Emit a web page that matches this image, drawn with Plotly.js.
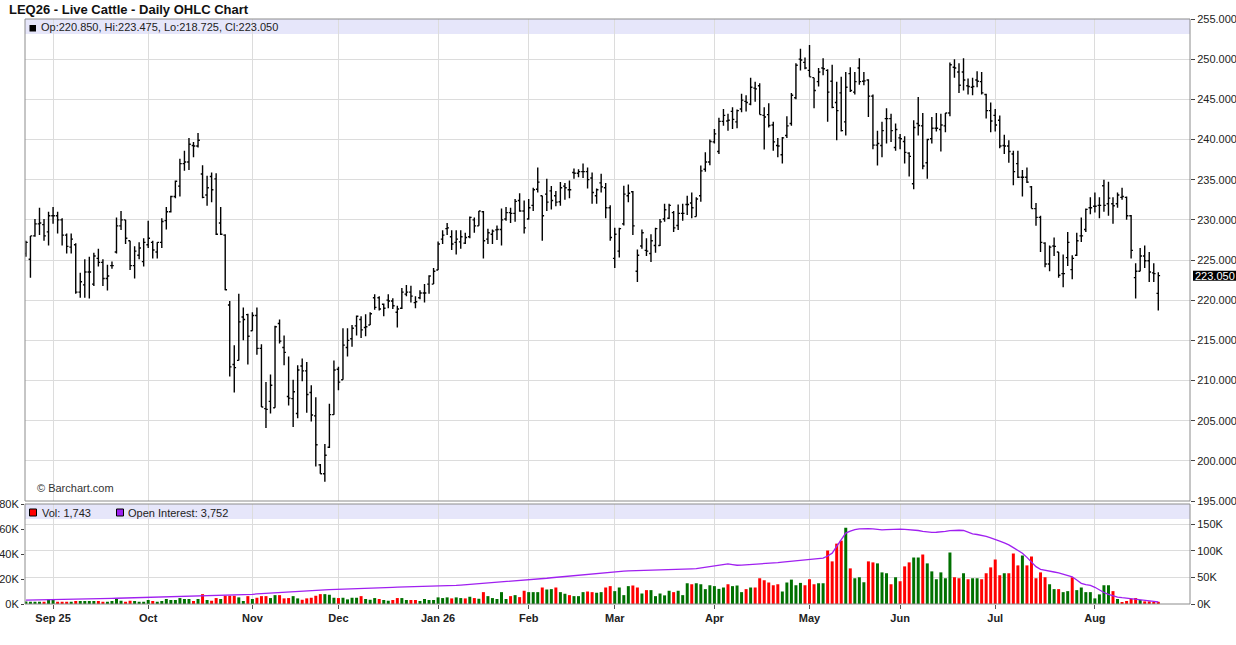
<!DOCTYPE html>
<html><head><meta charset="utf-8">
<script src="https://cdn.plot.ly/plotly-3.0.1.min.js"></script>
<style>html,body{margin:0;padding:0;background:#fff}#chart{width:1236px;height:645px}</style>
</head><body><div id="chart"></div>
<script>
// ---- data (bar index = trading day from Aug 22 2025 to Aug 21 2026) ----
const monthStartIndex = [6,27,50,69,91,111,130,152,173,193,214,236];
const monthLabels = ['Sep 25','Oct','Nov','Dec','Jan 26','Feb','Mar','Apr','May','Jun','Jul','Aug'];
const priceTicks = [195,200,205,210,215,220,225,230,235,240,245,250,255];
const volumeTicksK = [0,20,40,60,80];
const oiTicksK = [0,50,100,150];

const openPrice = [
225.8,225.1,228.0,229.5,229.4,228.5,230.5,230.5,230.0,228.1,
226.6,226.9,221.0,221.9,223.5,222.0,225.2,224.7,222.7,224.3,
226.0,229.25,230.0,227.4,224.3,225.6,224.8,226.9,227.2,226.0,
227.2,229.9,231.0,232.9,234.2,237.0,237.2,239.25,239.2,235.7,
233.1,235.4,235.1,229.6,228.1,219.4,212.0,212.5,217.9,218.2,
216.2,218.1,214.0,206.5,207.4,206.6,217.1,214.1,208.0,207.75,
205.9,211.8,211.2,208.5,205.6,199.5,198.4,201.7,205.75,211.4,
210.1,214.1,215.2,216.8,217.6,216.6,216.9,220.3,220.3,219.5,
220.0,219.9,218.5,219.0,220.75,221.0,219.7,220.3,220.9,222.0,
222.0,223.75,227.6,228.9,227.9,227.2,227.25,227.1,227.9,230.0,
229.25,231.0,227.6,228.2,228.75,228.8,230.1,230.9,230.8,232.4,
231.1,230.1,231.8,233.8,233.0,233.2,233.6,233.0,232.25,234.2,
233.75,235.9,235.8,236.0,236.0,235.2,233.0,234.6,234.0,231.5,
225.2,226.1,229.5,233.0,233.5,223.6,226.75,226.2,225.8,226.8,
226.8,230.1,230.2,230.9,229.3,230.8,231.9,232.1,230.4,233.0,
236.3,237.2,239.7,238.5,242.25,242.3,243.5,242.2,243.8,244.75,
244.4,246.4,246.7,243.0,243.1,241.8,239.25,238.1,240.5,242.0,
245.2,250.0,249.6,248.6,247.7,247.2,248.9,248.6,247.25,244.6,
245.8,242.2,248.2,245.9,248.9,247.25,247.4,245.4,239.3,239.25,
242.6,242.6,239.0,240.2,239.75,238.3,234.5,242.0,241.7,237.1,
240.1,241.4,241.25,241.7,243.3,249.0,248.4,248.4,246.7,246.5,
247.4,247.2,245.6,243.6,243.0,242.4,239.25,239.2,238.2,237.0,
235.3,235.3,234.1,231.4,230.3,227.1,224.5,226.75,226.0,223.3,
225.3,223.8,225.6,228.0,228.8,231.5,231.7,231.8,234.25,232.0,
232.0,232.0,232.8,232.8,230.5,222.8,223.6,225.5,224.9,223.4,220.85];

const highPrice = [
227.4,228.0,230.1,231.5,230.1,231.0,231.6,231.0,230.2,228.3,
228.3,227.1,223.4,225.1,225.4,225.9,226.4,225.1,224.4,224.8,
230.3,231.1,230.0,227.4,226.7,227.2,227.7,229.9,227.4,227.2,
230.2,231.6,233.0,234.9,237.6,238.6,240.2,239.7,240.8,236.8,
235.5,235.9,235.8,231.6,228.2,219.9,214.4,220.8,219.1,218.3,
218.5,219.1,214.5,209.8,210.75,216.8,217.6,215.6,213.0,210.1,
211.9,212.75,212.3,209.4,207.9,199.6,202.1,207.1,212.5,211.7,
216.5,216.5,216.9,218.1,218.0,218.25,218.5,220.75,220.5,219.6,
220.75,220.25,219.3,221.5,221.9,221.8,220.5,221.25,222.0,223.1,
224.0,227.3,228.7,229.6,228.7,228.7,228.7,228.4,230.4,230.3,
231.1,231.1,228.9,228.8,229.3,231.4,231.6,231.5,232.6,233.3,
232.4,232.6,234.0,236.5,233.0,235.1,234.2,233.6,234.7,234.6,
234.9,236.4,236.3,237.0,236.5,235.9,233.9,235.75,234.6,231.8,
229.0,229.0,234.25,234.4,233.6,226.3,228.8,227.7,228.2,229.0,
230.1,232.0,232.0,231.1,231.9,232.0,233.0,233.4,232.8,236.75,
238.4,240.0,241.3,242.7,243.8,243.2,244.0,243.75,245.7,245.5,
247.7,247.2,247.0,244.0,244.5,242.2,240.2,240.3,242.9,245.8,
249.5,251.3,250.2,251.75,247.7,248.9,250.1,248.75,249.3,247.2,
247.8,248.4,249.0,248.4,250.1,248.4,247.5,245.6,241.1,242.2,
243.9,243.2,242.0,240.7,240.4,238.4,242.4,245.3,243.3,240.1,
242.8,243.3,243.2,243.3,249.6,250.0,249.5,250.1,247.6,247.7,
248.5,248.4,245.7,244.6,243.8,243.0,240.6,239.9,238.6,238.6,
236.2,236.5,234.2,232.1,230.5,227.2,226.8,227.8,226.0,225.7,
228.5,225.6,228.4,230.3,231.4,232.8,233.4,232.8,235.0,234.75,
232.8,233.4,234.0,232.9,230.6,224.6,226.5,226.8,226.0,224.6,223.475];

const lowPrice = [
225.4,222.8,227.9,228.1,227.4,226.8,229.5,228.3,226.8,225.8,
225.8,220.8,220.3,220.3,220.2,221.75,224.2,221.75,221.2,223.9,
225.8,228.75,227.0,223.75,222.7,225.1,224.2,226.5,225.2,225.2,
226.5,228.8,230.9,232.7,232.9,236.1,236.2,237.8,239.0,232.7,
231.75,232.2,228.1,228.1,221.25,210.5,208.5,212.5,215.0,212.0,
216.2,213.2,206.7,204.1,205.9,206.6,214.6,211.9,206.9,204.2,
205.3,209.9,206.0,204.9,199.3,198.4,197.4,201.6,205.75,208.8,
210.1,213.0,214.2,215.6,215.3,215.5,216.9,218.8,218.7,218.0,
219.0,218.9,216.6,218.9,220.5,219.7,219.0,220.1,219.7,220.8,
222.0,223.75,227.0,228.1,226.25,225.7,226.4,227.0,227.7,228.4,
229.25,225.2,227.0,227.0,227.5,226.8,229.9,229.6,229.75,231.0,
228.3,230.0,231.1,233.4,227.4,231.1,231.3,231.7,231.75,232.5,
232.7,235.1,235.3,235.2,233.9,232.0,232.0,233.4,230.2,227.4,
224.0,225.3,229.3,232.2,228.1,222.25,226.4,225.5,224.75,225.9,
226.75,229.75,230.1,228.5,228.75,229.9,230.6,230.2,230.4,232.25,
236.0,236.8,239.5,238.2,241.7,241.1,241.3,241.4,243.4,243.5,
244.25,244.7,243.1,238.75,241.5,238.6,237.8,237.0,240.2,241.7,
245.0,248.6,248.75,247.8,243.9,246.6,248.0,242.2,243.9,239.9,
241.0,240.5,245.9,245.6,246.8,246.75,242.8,238.8,236.75,237.8,
239.5,239.7,238.6,238.8,237.0,235.4,233.8,240.5,236.3,235.1,
239.5,241.0,238.5,240.9,242.9,247.7,245.8,246.1,245.6,245.5,
246.5,245.6,242.6,240.9,241.0,238.9,238.2,237.1,234.3,235.2,
232.9,234.6,231.4,229.25,226.0,224.1,223.6,225.5,222.8,221.6,
224.25,222.6,225.5,227.25,228.5,230.7,230.9,230.2,231.0,230.5,
229.5,231.5,232.5,230.0,225.2,220.2,223.6,224.0,222.25,222.25,218.725];

const closePrice = [
227.2,228.0,229.5,229.6,228.0,230.5,230.5,230.0,228.1,226.7,
227.6,221.0,222.3,223.5,223.5,225.5,224.7,222.7,223.0,224.3,
229.25,230.0,227.7,224.3,226.1,226.5,227.2,227.7,226.25,227.2,
229.8,231.0,232.9,234.8,237.0,237.2,239.4,239.2,239.9,232.8,
234.0,233.75,228.2,228.2,221.3,211.7,211.6,217.3,217.6,215.5,
218.1,214.0,206.7,206.4,209.4,216.7,214.9,213.5,207.8,208.6,
211.3,211.2,208.25,205.7,202.0,198.4,200.7,205.75,211.3,209.8,
214.4,215.0,216.5,218.0,216.3,216.7,218.3,219.1,218.9,219.0,
219.9,219.3,218.9,221.0,221.0,220.5,219.8,220.9,220.9,223.0,
223.6,227.0,228.1,229.0,227.0,227.6,227.9,227.8,230.3,229.25,
231.1,227.4,228.4,228.6,228.8,230.0,230.9,230.8,232.3,231.1,
229.0,231.5,233.75,234.7,230.5,232.2,232.4,232.2,234.0,234.0,
233.75,235.8,236.0,236.0,235.0,233.4,233.75,234.1,231.5,227.8,
228.2,228.9,233.2,233.3,229.25,225.6,228.4,226.1,227.4,228.9,
229.75,231.25,231.8,229.0,230.8,230.8,231.9,231.5,232.6,236.1,
237.2,239.75,240.7,242.25,243.0,242.4,242.5,243.6,244.9,244.6,
246.5,246.3,243.1,242.8,241.75,239.7,239.2,240.2,241.7,245.5,
249.25,249.9,248.9,247.8,246.1,248.4,248.8,245.9,244.0,243.6,
241.1,246.5,246.1,247.2,247.2,247.3,245.4,239.3,239.5,241.1,
242.6,241.1,241.25,240.1,238.4,237.9,241.5,241.75,236.7,240.0,
241.4,241.4,241.8,243.3,249.3,248.9,246.75,247.4,246.6,246.6,
247.25,245.8,243.6,242.3,241.8,239.2,239.2,238.5,236.0,235.3,
235.3,234.7,231.4,230.3,227.2,224.5,226.6,226.7,223.1,223.3,
227.2,225.2,227.4,228.0,231.3,231.5,231.7,231.8,231.8,232.7,
231.75,233.1,232.9,230.5,226.2,223.6,225.5,224.9,223.5,223.3,223.05];

const volumeK = [
2.0,1.8,1.8,1.8,1.8,3.7,3.7,1.8,1.8,1.8,
1.8,2.4,2.4,2.4,2.4,2.4,2.4,1.8,1.8,2.4,
4.0,2.6,1.8,2.6,2.4,1.8,1.8,3.2,2.4,1.8,
2.4,4.0,3.2,3.2,4.75,4.0,4.0,2.4,4.0,7.9,
3.2,2.6,4.75,4.0,6.6,6.6,6.6,5.3,2.4,6.3,
4.0,5.0,6.3,6.3,4.75,7.1,7.1,4.5,4.75,6.3,
4.5,3.4,4.5,5.0,6.6,7.9,7.9,7.4,5.0,4.75,
5.0,3.7,5.0,5.0,6.3,4.0,3.4,4.75,4.0,3.2,
2.6,3.2,4.75,4.75,3.2,3.2,3.2,2.4,4.0,3.2,
3.2,5.3,4.75,5.3,4.5,5.3,4.75,4.5,5.8,4.75,
4.2,9.5,6.3,4.75,4.0,9.5,4.0,6.3,7.1,5.5,
10.6,9.5,9.5,9.5,13.2,11.6,11.9,13.2,9.5,8.2,
7.1,6.3,6.3,9.5,10.0,9.5,9.0,9.5,13.2,14.3,
10.3,13.2,7.1,14.3,14.8,13.2,8.4,11.1,11.1,6.3,
8.4,6.9,10.6,9.5,10.6,7.1,16.6,15.8,16.6,15.8,
11.9,15.0,14.3,12.1,13.2,15.8,14.3,14.8,9.5,11.9,
13.2,13.2,20.6,19.0,17.2,15.0,15.8,10.0,17.2,19.5,
15.0,16.9,15.0,19.8,15.8,16.6,16.6,42.8,34.1,48.3,
50.7,61.0,28.5,20.6,21.4,17.4,34.1,33.3,32.5,25.3,
24.6,15.8,21.4,18.2,30.1,33.3,37.2,37.2,39.6,32.5,
26.1,19.8,25.3,20.6,41.2,21.4,20.6,24.6,19.8,20.6,
20.6,19.8,24.6,29.3,35.6,23.0,24.6,24.6,40.4,30.9,
38.8,30.9,38.0,20.6,25.3,21.4,15.8,11.9,11.9,9.5,
10.3,21.4,11.1,13.2,9.5,9.5,4.5,7.7,15.0,15.0,
10.3,4.0,1.6,2.4,4.0,4.75,3.2,2.1,2.1,1.6,1.743];

const openInterestK = [
7.4,7.5,7.6,7.7,7.8,8.0,8.1,8.2,8.4,8.5,
8.7,8.9,9.1,9.3,9.5,9.7,9.9,10.1,10.3,10.5,
10.8,11.0,11.2,11.4,11.6,11.8,12.1,12.4,12.6,12.8,
13.0,13.2,13.4,13.6,13.8,14.0,14.2,14.4,14.6,14.9,
15.2,15.5,15.8,16.1,16.4,16.7,17.0,17.3,17.6,17.9,
18.2,18.8,19.4,19.9,20.4,20.9,21.4,21.9,22.4,22.9,
23.4,23.9,24.4,24.9,25.4,25.9,26.4,26.8,27.2,27.6,
27.9,28.2,28.5,28.8,29.1,29.4,29.7,30.0,30.3,30.6,
30.9,31.2,31.5,31.7,31.9,32.1,32.3,32.4,32.5,32.6,
32.6,32.7,33.2,33.7,34.3,34.9,35.5,36.1,36.7,37.3,
38.0,38.7,39.3,39.9,40.5,41.0,41.6,42.2,42.8,43.4,
44.1,44.8,45.6,46.5,47.4,48.3,49.2,50.0,50.8,51.7,
52.6,53.5,54.5,55.4,56.3,57.2,58.1,59.0,59.8,60.6,
61.4,61.6,61.8,62.0,62.2,62.4,62.6,62.8,63.1,63.4,
63.6,63.9,64.3,64.6,65.0,65.3,65.7,66.0,66.4,67.6,
68.9,70.1,71.4,72.7,74.0,75.2,74.0,72.7,73.0,73.4,
73.8,74.2,74.7,75.2,76.0,76.8,77.6,78.4,79.2,80.0,
80.8,81.6,82.4,83.2,84.1,85.0,85.9,90.0,95.3,108.0,
121.0,132.9,136.5,139.5,141.0,141.5,141.3,141.0,140.0,139.0,
139.6,140.2,140.4,140.4,140.0,139.4,138.6,137.8,136.0,134.5,
134.3,134.5,134.7,136.0,137.5,138.5,138.3,137.8,134.5,131.6,
130.3,129.1,126.6,124.1,121.6,118.0,114.5,110.9,105.7,100.4,
95.2,87.4,79.6,70.0,65.0,63.0,61.4,60.0,58.5,56.4,
54.3,51.0,45.0,38.8,36.5,35.0,31.3,26.0,21.5,18.2,
15.0,13.0,11.8,10.6,9.4,8.4,7.4,6.3,5.6,4.8,3.752];

// ---- derived ----
const n = closePrice.length;
const barIndex = closePrice.map((_, i) => i);
const UP = '#007000', DOWN = '#ff0000';
const volColors = closePrice.map((c, i) => (i === 0 || c >= closePrice[i - 1]) ? UP : DOWN);
const last = n - 1;
const fmtInt = v => Math.round(v * 1000).toLocaleString('en-US');

// pixel helpers for paper-anchored decorations
const L = 25, R = 1190, TOP = 19, BOT = 604;
const px = x => (x - L) / (R - L);
const py = y => (BOT - y) / (BOT - TOP);

const FONT = 'Liberation Sans, Arial, Helvetica, sans-serif';
const GRID = '#dcdcdc';

const data = [
  {
    type: 'ohlc', x: barIndex, open: openPrice, high: highPrice, low: lowPrice, close: closePrice,
    xaxis: 'x', yaxis: 'y', tickwidth: 0.4,
    increasing: {line: {color: '#000', width: 1.4}},
    decreasing: {line: {color: '#000', width: 1.4}},
    hoverinfo: 'none'
  },
  {
    type: 'bar', x: barIndex, y: volumeK, xaxis: 'x', yaxis: 'y2',
    width: 0.66, marker: {color: volColors, line: {width: 0}}, hoverinfo: 'none'
  },
  {
    type: 'scatter', mode: 'lines', x: barIndex, y: openInterestK, xaxis: 'x', yaxis: 'y3',
    line: {color: '#a020f0', width: 1.3}, hoverinfo: 'none'
  }
];

const layout = {
  width: 1236, height: 645,
  margin: {l: L, r: 1236 - R, t: TOP, b: 645 - BOT, pad: 0},
  paper_bgcolor: '#fff', plot_bgcolor: '#fff',
  showlegend: false, hovermode: false,
  font: {family: FONT, size: 11, color: '#222'},
  title: {
    text: 'LEQ26 - Live Cattle - Daily OHLC Chart',
    font: {family: FONT, size: 13, weight: 'bold', color: '#111'},
    xref: 'container', yref: 'container', x: 9 / 1236, xanchor: 'left',
    y: 1 - 9 / 645, yanchor: 'middle'
  },
  xaxis: {
    range: [-0.2, 257], anchor: 'y2',
    tickmode: 'array', tickvals: monthStartIndex, ticktext: monthLabels,
    tickfont: {family: FONT, size: 11, weight: 'bold', color: '#222'},
    ticks: 'outside', ticklen: 4, tickcolor: '#555',
    showgrid: true, gridcolor: GRID, gridwidth: 1,
    zeroline: false, showline: false,
    rangeslider: {visible: false}, fixedrange: true
  },
  yaxis: {
    domain: [(BOT - 501) / (BOT - TOP), 1], range: [195, 255], side: 'right', anchor: 'x',
    tickmode: 'array', tickvals: priceTicks, ticktext: priceTicks.map(v => v.toFixed(3)),
    ticks: 'outside', ticklen: 4, tickcolor: '#444',
    tickfont: {family: FONT, size: 11, color: '#222'},
    showgrid: true, gridcolor: GRID, zeroline: false, showline: false, fixedrange: true
  },
  yaxis2: {
    domain: [0, (BOT - 504) / (BOT - TOP)], range: [0, 80], side: 'left', anchor: 'x',
    tickmode: 'array', tickvals: volumeTicksK, ticktext: volumeTicksK.map(v => v + 'K'),
    ticks: 'outside', ticklen: 3, tickcolor: '#444',
    tickfont: {family: FONT, size: 11, color: '#222'},
    showgrid: false, zeroline: false, showline: false, fixedrange: true
  },
  yaxis3: {
    overlaying: 'y2', range: [0, 187.5], side: 'right', anchor: 'x',
    tickmode: 'array', tickvals: oiTicksK, ticktext: oiTicksK.map(v => v + 'K'),
    ticks: 'outside', ticklen: 4, tickcolor: '#444',
    tickfont: {family: FONT, size: 11, color: '#222'},
    showgrid: true, gridcolor: GRID, zeroline: false, showline: false, fixedrange: true
  },
  shapes: [
    // legend bands
    {type: 'rect', xref: 'x domain', yref: 'y domain', x0: 0, x1: 1, y0: 1 - 15 / 482, y1: 1,
     fillcolor: '#e6e6fa', line: {width: 0}, layer: 'below'},
    {type: 'rect', xref: 'x domain', yref: 'y2 domain', x0: 0, x1: 1, y0: 1 - 15 / 100, y1: 1,
     fillcolor: '#e6e6fa', line: {width: 0}, layer: 'below'},
    // panel frames
    {type: 'rect', xref: 'x domain', yref: 'y domain', x0: 0, x1: 1, y0: 0, y1: 1,
     line: {color: '#8c8c8c', width: 1}, fillcolor: 'rgba(0,0,0,0)', layer: 'above'},
    {type: 'rect', xref: 'x domain', yref: 'y2 domain', x0: 0, x1: 1, y0: 0, y1: 1,
     line: {color: '#8c8c8c', width: 1}, fillcolor: 'rgba(0,0,0,0)', layer: 'above'},
    // legend swatches
    {type: 'rect', xref: 'paper', yref: 'paper', x0: px(29.5), x1: px(36), y0: py(31.5), y1: py(25),
     fillcolor: '#000', line: {width: 0}},
    {type: 'rect', xref: 'paper', yref: 'paper', x0: px(29.5), x1: px(36.5), y0: py(516), y1: py(509),
     fillcolor: '#ff0000', line: {color: '#000', width: 1}},
    {type: 'rect', xref: 'paper', yref: 'paper', x0: px(116.5), x1: px(123.5), y0: py(516), y1: py(509),
     fillcolor: '#9b1ff0', line: {color: '#000', width: 1}},
    // last price box
    {type: 'rect', xref: 'paper', yref: 'y', x0: px(1193), x1: px(1236), 
     y0: closePrice[last] - 0.62, y1: closePrice[last] + 0.62,
     fillcolor: '#000', line: {width: 0}, layer: 'above'}
  ],
  annotations: [
    {xref: 'paper', yref: 'paper', x: px(39), y: py(27.5), xanchor: 'left', yanchor: 'middle',
     showarrow: false, font: {family: FONT, size: 11, color: '#222'},
     text: 'Op:' + openPrice[last].toFixed(3) + ', Hi:' + highPrice[last].toFixed(3) +
           ', Lo:' + lowPrice[last].toFixed(3) + ', Cl:' + closePrice[last].toFixed(3)},
    {xref: 'paper', yref: 'paper', x: px(39.5), y: py(512.5), xanchor: 'left', yanchor: 'middle',
     showarrow: false, font: {family: FONT, size: 11, color: '#222'},
     text: 'Vol: ' + fmtInt(volumeK[last])},
    {xref: 'paper', yref: 'paper', x: px(126), y: py(512.5), xanchor: 'left', yanchor: 'middle',
     showarrow: false, font: {family: FONT, size: 11, color: '#222'},
     text: 'Open Interest: ' + fmtInt(openInterestK[last])},
    {xref: 'paper', yref: 'paper', x: px(34.5), y: py(488), xanchor: 'left', yanchor: 'middle',
     showarrow: false, font: {family: FONT, size: 11, color: '#333'},
     text: '© Barchart.com'},
    {xref: 'paper', yref: 'y', x: px(1194), y: closePrice[last], xanchor: 'left', yanchor: 'middle',
     showarrow: false, font: {family: FONT, size: 11, color: '#fff'}, borderpad: 0,
     text: closePrice[last].toFixed(3)}
  ]
};

Plotly.newPlot('chart', data, layout, {staticPlot: true, displayModeBar: false});
</script>
</body></html>
